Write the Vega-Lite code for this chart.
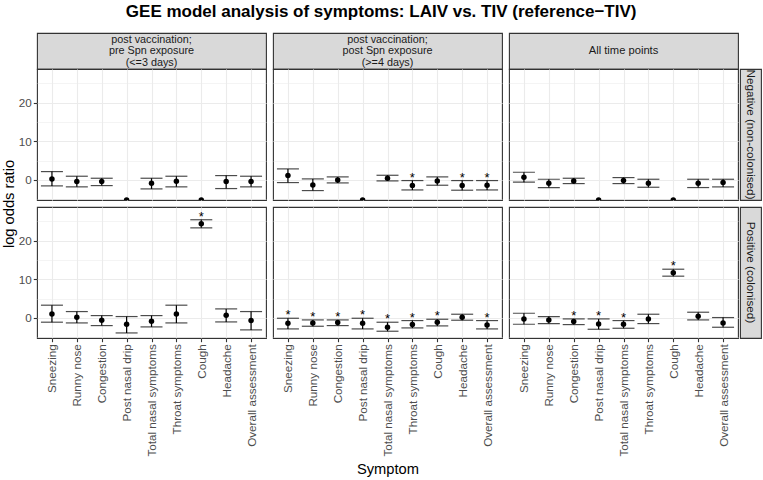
{
"$schema": "https://vega.github.io/schema/vega-lite/v6.json",
"background": "white",
"padding": {"left": 0, "right": 1, "top": 3, "bottom": 2},
"title": {"text": "GEE model analysis of symptoms: LAIV vs. TIV (reference−TIV)", "fontSize": 17, "fontWeight": "bold", "color": "black", "font": "Liberation Sans", "anchor": "middle", "offset": 11},
"config": {"font": "Liberation Sans", "view": {"stroke": "#333333", "strokeWidth": 1.1}},
"datasets": {
"strips": [
{"key": "pre", "label": "post vaccination;\npre Spn exposure\n(<=3 days)"},
{"key": "post", "label": "post vaccination;\npost Spn exposure\n(>=4 days)"},
{"key": "all", "label": "All time points"},
{"key": "Negative", "label": "Negative (non-colonised)"},
{"key": "Positive", "label": "Positive (colonised)"}
],
"est": [
{"p":"pre","s":"Negative","sym":"Sneezing","est":0.26,"lo":-1.55,"hi":2.15,"star":""},
{"p":"pre","s":"Negative","sym":"Runny nose","est":-0.43,"lo":-1.8,"hi":0.95,"star":""},
{"p":"pre","s":"Negative","sym":"Congestion","est":-0.43,"lo":-1.47,"hi":0.43,"star":""},
{"p":"pre","s":"Negative","sym":"Post nasal drip","est":-5.2,"lo":null,"hi":null,"star":""},
{"p":"pre","s":"Negative","sym":"Total nasal symptoms","est":-0.86,"lo":-2.33,"hi":0.43,"star":""},
{"p":"pre","s":"Negative","sym":"Throat symptoms","est":-0.35,"lo":-1.8,"hi":0.95,"star":""},
{"p":"pre","s":"Negative","sym":"Cough","est":-5.2,"lo":null,"hi":null,"star":""},
{"p":"pre","s":"Negative","sym":"Headache","est":-0.43,"lo":-2.24,"hi":1.12,"star":""},
{"p":"pre","s":"Negative","sym":"Overall assessment","est":-0.43,"lo":-1.8,"hi":0.95,"star":""},
{"p":"post","s":"Negative","sym":"Sneezing","est":1.12,"lo":-0.69,"hi":2.85,"star":""},
{"p":"post","s":"Negative","sym":"Runny nose","est":-1.3,"lo":-2.76,"hi":0.26,"star":""},
{"p":"post","s":"Negative","sym":"Congestion","est":0.0,"lo":-0.78,"hi":0.78,"star":""},
{"p":"post","s":"Negative","sym":"Post nasal drip","est":-5.2,"lo":null,"hi":null,"star":""},
{"p":"post","s":"Negative","sym":"Total nasal symptoms","est":0.43,"lo":-0.26,"hi":1.2,"star":""},
{"p":"post","s":"Negative","sym":"Throat symptoms","est":-1.47,"lo":-2.6,"hi":-0.17,"star":"*"},
{"p":"post","s":"Negative","sym":"Cough","est":-0.26,"lo":-1.38,"hi":0.78,"star":""},
{"p":"post","s":"Negative","sym":"Headache","est":-1.47,"lo":-2.67,"hi":-0.17,"star":"*"},
{"p":"post","s":"Negative","sym":"Overall assessment","est":-1.38,"lo":-2.6,"hi":-0.17,"star":"*"},
{"p":"all","s":"Negative","sym":"Sneezing","est":0.69,"lo":-0.6,"hi":1.98,"star":""},
{"p":"all","s":"Negative","sym":"Runny nose","est":-0.86,"lo":-1.98,"hi":0.17,"star":""},
{"p":"all","s":"Negative","sym":"Congestion","est":-0.26,"lo":-0.95,"hi":0.43,"star":""},
{"p":"all","s":"Negative","sym":"Post nasal drip","est":-5.2,"lo":null,"hi":null,"star":""},
{"p":"all","s":"Negative","sym":"Total nasal symptoms","est":-0.17,"lo":-0.95,"hi":0.6,"star":""},
{"p":"all","s":"Negative","sym":"Throat symptoms","est":-0.86,"lo":-1.9,"hi":0.17,"star":""},
{"p":"all","s":"Negative","sym":"Cough","est":-5.2,"lo":null,"hi":null,"star":""},
{"p":"all","s":"Negative","sym":"Headache","est":-0.86,"lo":-1.98,"hi":0.17,"star":""},
{"p":"all","s":"Negative","sym":"Overall assessment","est":-0.69,"lo":-1.81,"hi":0.17,"star":""},
{"p":"pre","s":"Positive","sym":"Sneezing","est":1.04,"lo":-1.11,"hi":3.29,"star":""},
{"p":"pre","s":"Positive","sym":"Runny nose","est":0.17,"lo":-1.3,"hi":1.64,"star":""},
{"p":"pre","s":"Positive","sym":"Congestion","est":-0.6,"lo":-1.99,"hi":0.6,"star":""},
{"p":"pre","s":"Positive","sym":"Post nasal drip","est":-1.64,"lo":-3.89,"hi":0.35,"star":""},
{"p":"pre","s":"Positive","sym":"Total nasal symptoms","est":-0.86,"lo":-2.33,"hi":0.6,"star":""},
{"p":"pre","s":"Positive","sym":"Throat symptoms","est":1.04,"lo":-1.3,"hi":3.29,"star":""},
{"p":"pre","s":"Positive","sym":"Cough","est":24.35,"lo":23.3,"hi":25.4,"star":"*"},
{"p":"pre","s":"Positive","sym":"Headache","est":0.69,"lo":-1.04,"hi":2.33,"star":""},
{"p":"pre","s":"Positive","sym":"Overall assessment","est":-0.69,"lo":-3.1,"hi":1.64,"star":""},
{"p":"post","s":"Positive","sym":"Sneezing","est":-1.38,"lo":-2.85,"hi":-0.09,"star":"*"},
{"p":"post","s":"Positive","sym":"Runny nose","est":-1.3,"lo":-2.16,"hi":-0.52,"star":"*"},
{"p":"post","s":"Positive","sym":"Congestion","est":-1.21,"lo":-1.99,"hi":-0.52,"star":"*"},
{"p":"post","s":"Positive","sym":"Post nasal drip","est":-1.38,"lo":-2.85,"hi":-0.09,"star":"*"},
{"p":"post","s":"Positive","sym":"Total nasal symptoms","est":-2.42,"lo":-3.45,"hi":-1.12,"star":"*"},
{"p":"post","s":"Positive","sym":"Throat symptoms","est":-1.73,"lo":-2.59,"hi":-0.69,"star":"*"},
{"p":"post","s":"Positive","sym":"Cough","est":-1.12,"lo":-2.07,"hi":-0.35,"star":"*"},
{"p":"post","s":"Positive","sym":"Headache","est":0.17,"lo":-0.6,"hi":0.95,"star":""},
{"p":"post","s":"Positive","sym":"Overall assessment","est":-1.81,"lo":-2.85,"hi":-0.69,"star":"*"},
{"p":"all","s":"Positive","sym":"Sneezing","est":-0.26,"lo":-1.64,"hi":1.21,"star":""},
{"p":"all","s":"Positive","sym":"Runny nose","est":-0.52,"lo":-1.47,"hi":0.35,"star":""},
{"p":"all","s":"Positive","sym":"Congestion","est":-0.95,"lo":-1.73,"hi":-0.26,"star":"*"},
{"p":"all","s":"Positive","sym":"Post nasal drip","est":-1.55,"lo":-2.94,"hi":-0.26,"star":"*"},
{"p":"all","s":"Positive","sym":"Total nasal symptoms","est":-1.64,"lo":-2.68,"hi":-0.69,"star":"*"},
{"p":"all","s":"Positive","sym":"Throat symptoms","est":-0.26,"lo":-1.47,"hi":0.95,"star":""},
{"p":"all","s":"Positive","sym":"Cough","est":11.7,"lo":10.8,"hi":12.6,"star":"*"},
{"p":"all","s":"Positive","sym":"Headache","est":0.43,"lo":-0.52,"hi":1.47,"star":""},
{"p":"all","s":"Positive","sym":"Overall assessment","est":-1.3,"lo":-2.42,"hi":0.09,"star":""}
]
},
"columns": 6,
"spacing": {"row": 0, "column": 2},
"bounds": "flush",
"align": "each",
"concat": [
{"width": 229, "height": 36, "view": {"fill": "#D9D9D9", "stroke": "#333333", "strokeWidth": 1.1}, "data": {"name": "strips"}, "transform": [{"filter": "datum.key === 'pre'"}], "mark": {"type": "text", "lineBreak": "\n", "fontSize": 10.8, "color": "#1A1A1A", "lineHeight": 11.5, "baseline": "middle", "align": "center", "dy": -11.5}, "encoding": {"text": {"field": "label"}}},
{"width": 3, "height": 1, "view": {"stroke": null}, "data": {"values": []}, "mark": "point"},
{"width": 229, "height": 36, "view": {"fill": "#D9D9D9", "stroke": "#333333", "strokeWidth": 1.1}, "data": {"name": "strips"}, "transform": [{"filter": "datum.key === 'post'"}], "mark": {"type": "text", "lineBreak": "\n", "fontSize": 10.8, "color": "#1A1A1A", "lineHeight": 11.5, "baseline": "middle", "align": "center", "dy": -11.5}, "encoding": {"text": {"field": "label"}}},
{"width": 3, "height": 1, "view": {"stroke": null}, "data": {"values": []}, "mark": "point"},
{"width": 229, "height": 36, "view": {"fill": "#D9D9D9", "stroke": "#333333", "strokeWidth": 1.1}, "data": {"name": "strips"}, "transform": [{"filter": "datum.key === 'all'"}], "mark": {"type": "text", "fontSize": 11.2, "color": "#1A1A1A", "baseline": "middle", "align": "center"}, "encoding": {"text": {"field": "label"}}},
{"width": 21, "height": 1, "view": {"stroke": null}, "data": {"values": []}, "mark": "point"},

{"width": 229, "height": 131, "data": {"name": "est"}, "transform": [{"filter": "datum.p === 'pre' && datum.s === 'Negative'"}],
 "resolve": {"axis": {"y": "independent"}},
 "encoding": {"x": {"field": "sym", "type": "nominal", "scale": {"type": "point", "padding": 0.6, "domain": ["Sneezing","Runny nose","Congestion","Post nasal drip","Total nasal symptoms","Throat symptoms","Cough","Headache","Overall assessment"]}, "axis": {"title": null, "labels": false, "ticks": false, "domain": false, "grid": true, "gridColor": "#EBEBEB", "gridWidth": 1.1}}},
 "layer": [
  {"mark": {"type": "rule", "color": "black", "strokeWidth": 1.2, "clip": true}, "encoding": {"y": {"field": "lo", "type": "quantitative", "scale": {"domain": [-5.2, 28.7], "nice": false, "zero": false}, "axis": {"title": "log odds ratio", "titleY": 134.5, "titlePadding": 2, "titleFontSize": 14.7, "titleFontWeight": "normal", "titleColor": "black", "values": [0, 10, 20], "tickSize": 3.7, "tickColor": "#333333", "tickWidth": 1.1, "labelPadding": 2, "labelFontSize": 11.7, "labelColor": "#4D4D4D", "domain": false, "grid": true, "gridColor": "#EBEBEB", "gridWidth": 1.1}}, "y2": {"field": "hi"}}},
  {"mark": {"type": "tick", "color": "black", "thickness": 1.2, "size": 22, "orient": "horizontal", "clip": true}, "encoding": {"y": {"field": "lo", "type": "quantitative", "axis": {"title": null, "values": [-5, 5, 15, 25], "labels": false, "ticks": false, "domain": false, "grid": true, "gridColor": "#EBEBEB", "gridWidth": 0.55}}}},
  {"mark": {"type": "tick", "color": "black", "thickness": 1.2, "size": 22, "orient": "horizontal", "clip": true}, "encoding": {"y": {"field": "hi", "type": "quantitative", "axis": null}}},
  {"mark": {"type": "point", "filled": true, "color": "black", "size": 30, "opacity": 1, "clip": true}, "encoding": {"y": {"field": "est", "type": "quantitative", "axis": null}}},
  {"mark": {"type": "text", "fontSize": 13, "color": "black", "baseline": "alphabetic", "dy": 1, "clip": true}, "encoding": {"y": {"field": "hi", "type": "quantitative", "axis": null}, "text": {"field": "star"}}}
 ]},
{"width": 3, "height": 1, "view": {"stroke": null}, "data": {"values": []}, "mark": "point"},
{"width": 229, "height": 131, "data": {"name": "est"}, "transform": [{"filter": "datum.p === 'post' && datum.s === 'Negative'"}],
 "resolve": {"axis": {"y": "independent"}},
 "encoding": {"x": {"field": "sym", "type": "nominal", "scale": {"type": "point", "padding": 0.6, "domain": ["Sneezing","Runny nose","Congestion","Post nasal drip","Total nasal symptoms","Throat symptoms","Cough","Headache","Overall assessment"]}, "axis": {"title": null, "labels": false, "ticks": false, "domain": false, "grid": true, "gridColor": "#EBEBEB", "gridWidth": 1.1}}},
 "layer": [
  {"mark": {"type": "rule", "color": "black", "strokeWidth": 1.2, "clip": true}, "encoding": {"y": {"field": "lo", "type": "quantitative", "scale": {"domain": [-5.2, 28.7], "nice": false, "zero": false}, "axis": {"title": null, "values": [0, 10, 20], "labels": false, "ticks": false, "domain": false, "grid": true, "gridColor": "#EBEBEB", "gridWidth": 1.1}}, "y2": {"field": "hi"}}},
  {"mark": {"type": "tick", "color": "black", "thickness": 1.2, "size": 22, "orient": "horizontal", "clip": true}, "encoding": {"y": {"field": "lo", "type": "quantitative", "axis": {"title": null, "values": [-5, 5, 15, 25], "labels": false, "ticks": false, "domain": false, "grid": true, "gridColor": "#EBEBEB", "gridWidth": 0.55}}}},
  {"mark": {"type": "tick", "color": "black", "thickness": 1.2, "size": 22, "orient": "horizontal", "clip": true}, "encoding": {"y": {"field": "hi", "type": "quantitative", "axis": null}}},
  {"mark": {"type": "point", "filled": true, "color": "black", "size": 30, "opacity": 1, "clip": true}, "encoding": {"y": {"field": "est", "type": "quantitative", "axis": null}}},
  {"mark": {"type": "text", "fontSize": 13, "color": "black", "baseline": "alphabetic", "dy": 1, "clip": true}, "encoding": {"y": {"field": "hi", "type": "quantitative", "axis": null}, "text": {"field": "star"}}}
 ]},
{"width": 3, "height": 1, "view": {"stroke": null}, "data": {"values": []}, "mark": "point"},
{"width": 229, "height": 131, "data": {"name": "est"}, "transform": [{"filter": "datum.p === 'all' && datum.s === 'Negative'"}],
 "resolve": {"axis": {"y": "independent"}},
 "encoding": {"x": {"field": "sym", "type": "nominal", "scale": {"type": "point", "padding": 0.6, "domain": ["Sneezing","Runny nose","Congestion","Post nasal drip","Total nasal symptoms","Throat symptoms","Cough","Headache","Overall assessment"]}, "axis": {"title": null, "labels": false, "ticks": false, "domain": false, "grid": true, "gridColor": "#EBEBEB", "gridWidth": 1.1}}},
 "layer": [
  {"mark": {"type": "rule", "color": "black", "strokeWidth": 1.2, "clip": true}, "encoding": {"y": {"field": "lo", "type": "quantitative", "scale": {"domain": [-5.2, 28.7], "nice": false, "zero": false}, "axis": {"title": null, "values": [0, 10, 20], "labels": false, "ticks": false, "domain": false, "grid": true, "gridColor": "#EBEBEB", "gridWidth": 1.1}}, "y2": {"field": "hi"}}},
  {"mark": {"type": "tick", "color": "black", "thickness": 1.2, "size": 22, "orient": "horizontal", "clip": true}, "encoding": {"y": {"field": "lo", "type": "quantitative", "axis": {"title": null, "values": [-5, 5, 15, 25], "labels": false, "ticks": false, "domain": false, "grid": true, "gridColor": "#EBEBEB", "gridWidth": 0.55}}}},
  {"mark": {"type": "tick", "color": "black", "thickness": 1.2, "size": 22, "orient": "horizontal", "clip": true}, "encoding": {"y": {"field": "hi", "type": "quantitative", "axis": null}}},
  {"mark": {"type": "point", "filled": true, "color": "black", "size": 30, "opacity": 1, "clip": true}, "encoding": {"y": {"field": "est", "type": "quantitative", "axis": null}}},
  {"mark": {"type": "text", "fontSize": 13, "color": "black", "baseline": "alphabetic", "dy": 1, "clip": true}, "encoding": {"y": {"field": "hi", "type": "quantitative", "axis": null}, "text": {"field": "star"}}}
 ]},
{"width": 21, "height": 131, "view": {"fill": "#D9D9D9", "stroke": "#333333", "strokeWidth": 1.1}, "data": {"name": "strips"}, "transform": [{"filter": "datum.key === 'Negative'"}], "mark": {"type": "text", "fontSize": 11.7, "color": "#1A1A1A", "angle": 90, "baseline": "middle", "align": "center"}, "encoding": {"text": {"field": "label"}}},

{"width": 229, "height": 7, "view": {"stroke": null}, "data": {"values": []}, "mark": "point"},
{"width": 3, "height": 7, "view": {"stroke": null}, "data": {"values": []}, "mark": "point"},
{"width": 229, "height": 7, "view": {"stroke": null}, "data": {"values": []}, "mark": "point"},
{"width": 3, "height": 7, "view": {"stroke": null}, "data": {"values": []}, "mark": "point"},
{"width": 229, "height": 7, "view": {"stroke": null}, "data": {"values": []}, "mark": "point"},
{"width": 21, "height": 7, "view": {"stroke": null}, "data": {"values": []}, "mark": "point"},

{"width": 229, "height": 131, "data": {"name": "est"}, "transform": [{"filter": "datum.p === 'pre' && datum.s === 'Positive'"}],
 "resolve": {"axis": {"y": "independent"}},
 "encoding": {"x": {"field": "sym", "type": "nominal", "scale": {"type": "point", "padding": 0.6, "domain": ["Sneezing","Runny nose","Congestion","Post nasal drip","Total nasal symptoms","Throat symptoms","Cough","Headache","Overall assessment"]}, "axis": {"title": null, "labelAngle": -90, "domain": false, "grid": true, "gridColor": "#EBEBEB", "gridWidth": 1.1, "ticks": true, "tickSize": 3.7, "tickColor": "#333333", "tickWidth": 1.1, "labelPadding": 2, "labelFontSize": 11.7, "labelColor": "#4D4D4D"}}},
 "layer": [
  {"mark": {"type": "rule", "color": "black", "strokeWidth": 1.2, "clip": true}, "encoding": {"y": {"field": "lo", "type": "quantitative", "scale": {"domain": [-5.2, 28.7], "nice": false, "zero": false}, "axis": {"title": null, "values": [0, 10, 20], "tickSize": 3.7, "tickColor": "#333333", "tickWidth": 1.1, "labelPadding": 2, "labelFontSize": 11.7, "labelColor": "#4D4D4D", "domain": false, "grid": true, "gridColor": "#EBEBEB", "gridWidth": 1.1}}, "y2": {"field": "hi"}}},
  {"mark": {"type": "tick", "color": "black", "thickness": 1.2, "size": 22, "orient": "horizontal", "clip": true}, "encoding": {"y": {"field": "lo", "type": "quantitative", "axis": {"title": null, "values": [-5, 5, 15, 25], "labels": false, "ticks": false, "domain": false, "grid": true, "gridColor": "#EBEBEB", "gridWidth": 0.55}}}},
  {"mark": {"type": "tick", "color": "black", "thickness": 1.2, "size": 22, "orient": "horizontal", "clip": true}, "encoding": {"y": {"field": "hi", "type": "quantitative", "axis": null}}},
  {"mark": {"type": "point", "filled": true, "color": "black", "size": 30, "opacity": 1, "clip": true}, "encoding": {"y": {"field": "est", "type": "quantitative", "axis": null}}},
  {"mark": {"type": "text", "fontSize": 13, "color": "black", "baseline": "alphabetic", "dy": 1, "clip": true}, "encoding": {"y": {"field": "hi", "type": "quantitative", "axis": null}, "text": {"field": "star"}}}
 ]},
{"width": 3, "height": 1, "view": {"stroke": null}, "data": {"values": []}, "mark": "point"},
{"width": 229, "height": 131, "data": {"name": "est"}, "transform": [{"filter": "datum.p === 'post' && datum.s === 'Positive'"}],
 "resolve": {"axis": {"y": "independent"}},
 "encoding": {"x": {"field": "sym", "type": "nominal", "scale": {"type": "point", "padding": 0.6, "domain": ["Sneezing","Runny nose","Congestion","Post nasal drip","Total nasal symptoms","Throat symptoms","Cough","Headache","Overall assessment"]}, "axis": {"title": "Symptom", "titlePadding": 5, "titleFontSize": 14.7, "titleFontWeight": "normal", "titleColor": "black", "labelAngle": -90, "domain": false, "grid": true, "gridColor": "#EBEBEB", "gridWidth": 1.1, "ticks": true, "tickSize": 3.7, "tickColor": "#333333", "tickWidth": 1.1, "labelPadding": 2, "labelFontSize": 11.7, "labelColor": "#4D4D4D"}}},
 "layer": [
  {"mark": {"type": "rule", "color": "black", "strokeWidth": 1.2, "clip": true}, "encoding": {"y": {"field": "lo", "type": "quantitative", "scale": {"domain": [-5.2, 28.7], "nice": false, "zero": false}, "axis": {"title": null, "values": [0, 10, 20], "labels": false, "ticks": false, "domain": false, "grid": true, "gridColor": "#EBEBEB", "gridWidth": 1.1}}, "y2": {"field": "hi"}}},
  {"mark": {"type": "tick", "color": "black", "thickness": 1.2, "size": 22, "orient": "horizontal", "clip": true}, "encoding": {"y": {"field": "lo", "type": "quantitative", "axis": {"title": null, "values": [-5, 5, 15, 25], "labels": false, "ticks": false, "domain": false, "grid": true, "gridColor": "#EBEBEB", "gridWidth": 0.55}}}},
  {"mark": {"type": "tick", "color": "black", "thickness": 1.2, "size": 22, "orient": "horizontal", "clip": true}, "encoding": {"y": {"field": "hi", "type": "quantitative", "axis": null}}},
  {"mark": {"type": "point", "filled": true, "color": "black", "size": 30, "opacity": 1, "clip": true}, "encoding": {"y": {"field": "est", "type": "quantitative", "axis": null}}},
  {"mark": {"type": "text", "fontSize": 13, "color": "black", "baseline": "alphabetic", "dy": 1, "clip": true}, "encoding": {"y": {"field": "hi", "type": "quantitative", "axis": null}, "text": {"field": "star"}}}
 ]},
{"width": 3, "height": 1, "view": {"stroke": null}, "data": {"values": []}, "mark": "point"},
{"width": 229, "height": 131, "data": {"name": "est"}, "transform": [{"filter": "datum.p === 'all' && datum.s === 'Positive'"}],
 "resolve": {"axis": {"y": "independent"}},
 "encoding": {"x": {"field": "sym", "type": "nominal", "scale": {"type": "point", "padding": 0.6, "domain": ["Sneezing","Runny nose","Congestion","Post nasal drip","Total nasal symptoms","Throat symptoms","Cough","Headache","Overall assessment"]}, "axis": {"title": null, "labelAngle": -90, "domain": false, "grid": true, "gridColor": "#EBEBEB", "gridWidth": 1.1, "ticks": true, "tickSize": 3.7, "tickColor": "#333333", "tickWidth": 1.1, "labelPadding": 2, "labelFontSize": 11.7, "labelColor": "#4D4D4D"}}},
 "layer": [
  {"mark": {"type": "rule", "color": "black", "strokeWidth": 1.2, "clip": true}, "encoding": {"y": {"field": "lo", "type": "quantitative", "scale": {"domain": [-5.2, 28.7], "nice": false, "zero": false}, "axis": {"title": null, "values": [0, 10, 20], "labels": false, "ticks": false, "domain": false, "grid": true, "gridColor": "#EBEBEB", "gridWidth": 1.1}}, "y2": {"field": "hi"}}},
  {"mark": {"type": "tick", "color": "black", "thickness": 1.2, "size": 22, "orient": "horizontal", "clip": true}, "encoding": {"y": {"field": "lo", "type": "quantitative", "axis": {"title": null, "values": [-5, 5, 15, 25], "labels": false, "ticks": false, "domain": false, "grid": true, "gridColor": "#EBEBEB", "gridWidth": 0.55}}}},
  {"mark": {"type": "tick", "color": "black", "thickness": 1.2, "size": 22, "orient": "horizontal", "clip": true}, "encoding": {"y": {"field": "hi", "type": "quantitative", "axis": null}}},
  {"mark": {"type": "point", "filled": true, "color": "black", "size": 30, "opacity": 1, "clip": true}, "encoding": {"y": {"field": "est", "type": "quantitative", "axis": null}}},
  {"mark": {"type": "text", "fontSize": 13, "color": "black", "baseline": "alphabetic", "dy": 1, "clip": true}, "encoding": {"y": {"field": "hi", "type": "quantitative", "axis": null}, "text": {"field": "star"}}}
 ]},
{"width": 21, "height": 131, "view": {"fill": "#D9D9D9", "stroke": "#333333", "strokeWidth": 1.1}, "data": {"name": "strips"}, "transform": [{"filter": "datum.key === 'Positive'"}], "mark": {"type": "text", "fontSize": 11.7, "color": "#1A1A1A", "angle": 90, "baseline": "middle", "align": "center"}, "encoding": {"text": {"field": "label"}}}
]
}
